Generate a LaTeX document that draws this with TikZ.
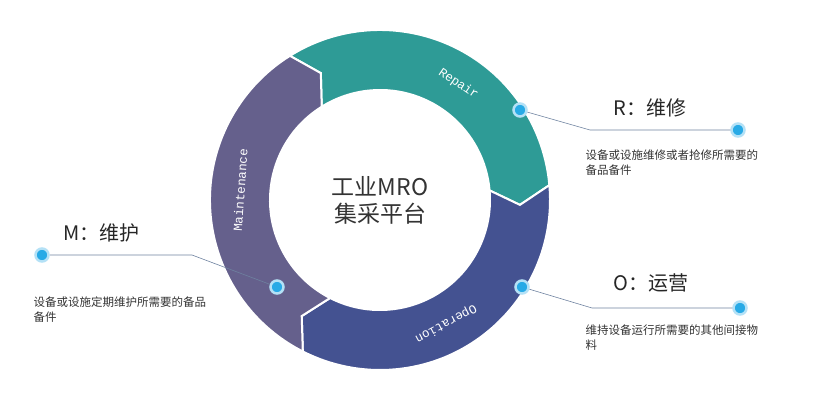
\documentclass[tikz,border=0pt]{standalone}
\usepackage{fontspec}
\setmonofont{Liberation Mono}
\newfontfamily\cjk{Noto Sans CJK SC}
\usetikzlibrary{calc, positioning}
\definecolor{repairteal}{RGB}{46, 155, 150}
\definecolor{operblue}{RGB}{68, 82, 145}
\definecolor{maintpurple}{RGB}{101, 96, 140}
\definecolor{leadline}{RGB}{110, 130, 160}
\definecolor{dotblue}{RGB}{40, 170, 230}

\newcommand{\ringseg}[3]{%
    \filldraw[seg, fill=#1] ($(c)+(#2:170)$) arc[start angle=#2, end angle=#3, radius=170]
        -- ($(c)+({#3-7}:140)$) -- ($(c)+(#3:110)$)
        arc[start angle=#3, end angle=#2, radius=110]
        -- ($(c)+({#2-7}:140)$) -- cycle;}

\begin{document}
\begin{tikzpicture}[
    x=1pt, y=1pt,
    seg/.style={draw=white, line width=2pt},
    ringlabel/.style={font=\ttfamily\fontsize{12.5}{12.5}\selectfont, text=white},
    dot/.style={circle, inner sep=0pt, minimum size=13pt, fill=dotblue, draw=dotblue!35, line width=2.5pt},
    lead/.style={draw=leadline, line width=0.6pt},
    title/.style={font=\cjk\fontsize{20}{22}\selectfont, text=black!85, anchor=west},
    desc/.style={font=\cjk\fontsize{11.5}{15}\selectfont, text=black!80, anchor=north west, align=left}
]
    \useasboundingbox (0,0) rectangle (828,405);
    \coordinate (c) at (380,205);

    % Ring
    \ringseg{repairteal}{122}{5}
    \ringseg{operblue}{5}{-117}
    \ringseg{maintpurple}{243}{122}

    % Ring labels
    \node[ringlabel, rotate=-34] (repair) at ($(c)+(56:140)$) {Repair};
    \node[ringlabel, rotate=-152] (oper) at ($(c)+(-62:140)$) {Operation};
    \node[ringlabel, rotate=86] (maint) at ($(c)+(176:140)$) {Maintenance};

    % Center
    \node[font=\cjk\fontsize{23}{27}\selectfont, text=black!80, align=center] (hub) at (c) {工业MRO\\集采平台};

    % Dots
    \node[dot] (rdot) at (520,295) {};
    \node[dot] (odot) at (522,118) {};
    \node[dot] (mdot) at (277,118) {};
    \node[dot] (rend) at (738,275) {};
    \node[dot] (oend) at (740,97) {};
    \node[dot] (mend) at (42,150) {};
    \coordinate (rbend) at (590,275);
    \coordinate (obend) at (592,97);
    \coordinate (mbend) at (192,150);

    % Leader lines
    \draw[lead] (rdot) -- (rbend) -- (rend);
    \draw[lead] (odot) -- (obend) -- (oend);
    \draw[lead] (mend) -- (mbend) -- (mdot);

    % Titles
    \node[title] (rtitle) at (610,297) {R：维修};
    \node[title] (otitle) at (610,122) {O：运营};
    \node[title] (mtitle) at (60,172) {M：维护};

    % Descriptions
    \node[desc] (rdesc) at (582,259) {设备或设施维修或者抢修所需要的\\备品备件};
    \node[desc] (odesc) at (582,84) {维持设备运行所需要的其他间接物\\料};
    \node[desc] (mdesc) at (30,112) {设备或设施定期维护所需要的备品\\备件};
\end{tikzpicture}
\end{document}
